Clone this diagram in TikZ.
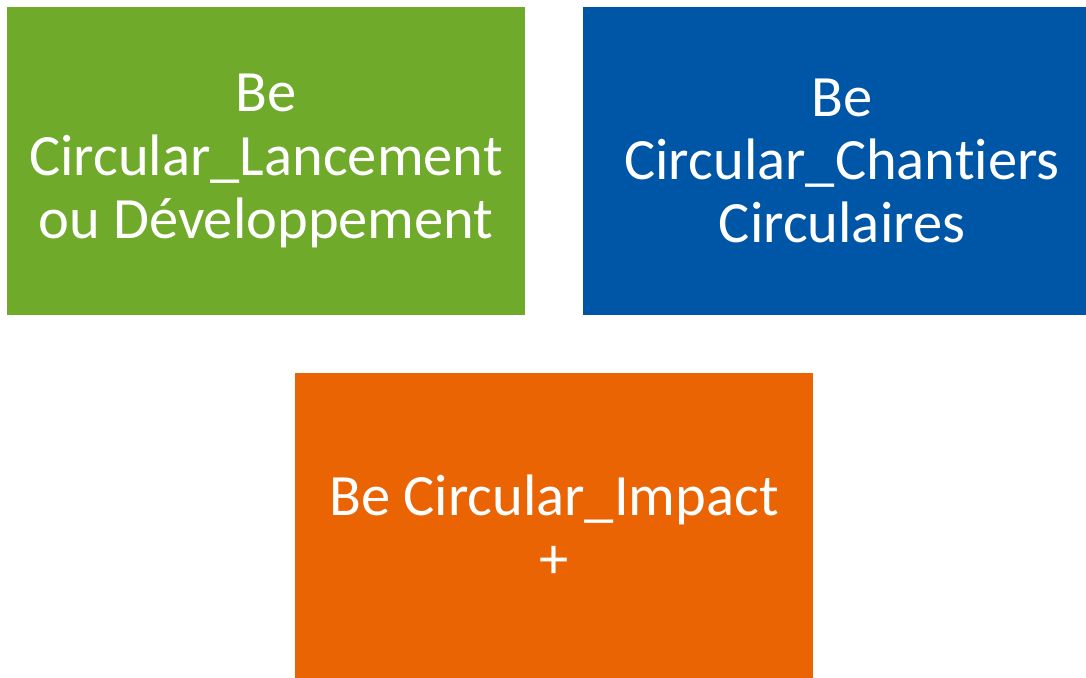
\documentclass[tikz,border=0pt]{standalone}
\usepackage{fontspec}
\setmainfont[Ligatures=NoCommon]{Carlito}
\definecolor{lancementgreen}{RGB}{111,170,42}
\definecolor{chantierblue}{RGB}{0,86,166}
\definecolor{impactorange}{RGB}{234,100,4}
\tikzset{
  tile/.style={minimum width=10.36cm, minimum height=6.16cm, inner sep=0pt,
    text=white, align=center, font=\fontsize{33.3}{36}\selectfont}
}
\begin{document}
\begin{tikzpicture}[yscale=-1, x=0.02cm, y=0.02cm]
    % Define the frame
    \useasboundingbox (0, 0) rectangle (1086, 678);
    \clip (0, 0) rectangle (1086, 678);

    % Define the positions of the tiles
    \coordinate (lancementPos) at (266, 161);
    \coordinate (chantiersPos) at (842, 161);
    \coordinate (impactPos) at (554, 527);

    % Draw the tiles
    \node[tile, fill=lancementgreen] (lancement) at (lancementPos)
      {Be\\Circular\_Lancement\\ou Développement};
    \node[tile, fill=chantierblue] (chantiers) at (chantiersPos)
      {Be\\Circular\_Chantiers\\Circulaires};
    \node[tile, fill=impactorange] (impact) at (impactPos)
      {Be Circular\_Impact\\+};
  \end{tikzpicture}
\end{document}
